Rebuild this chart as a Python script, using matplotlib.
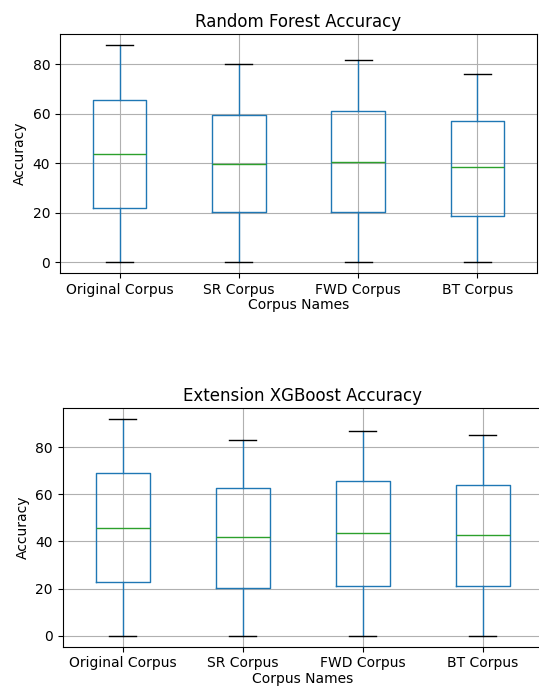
import matplotlib
matplotlib.use('Agg')
import matplotlib.pyplot as plt

# ── Data ────────────────────────────────────────────────────────────────────
corpora = ['Original Corpus', 'SR Corpus', 'FWD Corpus', 'BT Corpus']

# Random Forest accuracy
rf_min = [0.0, 0.0, 0.0, 0.0]
rf_q1 = [21.8, 20.2, 20.3, 18.7]
rf_med = [43.9, 39.8, 40.5, 38.3]
rf_q3 = [65.7, 59.6, 61.0, 57.0]
rf_max = [87.8, 80.0, 81.6, 76.0]

# Extension XGBoost accuracy
xgb_min = [0.0, 0.0, 0.0, 0.0]
xgb_q1 = [23.0, 20.2, 21.2, 21.2]
xgb_med = [45.9, 41.7, 43.4, 42.7]
xgb_q3 = [68.9, 62.8, 65.4, 64.0]
xgb_max = [91.8, 83.1, 86.7, 85.3]


def make_stats(lo, q1, med, q3, hi):
    return [dict(whislo=a, q1=b, med=c, q3=d, whishi=e, fliers=[])
            for a, b, c, d, e in zip(lo, q1, med, q3, hi)]


def draw(ax, stats, title):
    ax.bxp(stats, positions=[1, 2, 3, 4], widths=0.45,
           boxprops=dict(color='#1f77b4'),
           whiskerprops=dict(color='#1f77b4'),
           medianprops=dict(color='#2ca02c'),
           capprops=dict(color='black'),
           showfliers=False)
    ax.set_xticks([1, 2, 3, 4])
    ax.set_xticklabels(corpora)
    ax.set_xlim(0.5, 4.5)
    ax.grid(True)
    ax.set_title(title, fontsize=12, pad=5)
    ax.set_xlabel('Corpus Names', fontsize=10, labelpad=1)
    ax.set_ylabel('Accuracy', fontsize=10)
    ax.tick_params(labelsize=10)
    ax.set_yticks([0, 20, 40, 60, 80])


fig = plt.figure(figsize=(5.39, 6.91), dpi=100)
ax1 = fig.add_axes([0.1113, 0.6049, 0.885, 0.3459])
ax2 = fig.add_axes([0.1163, 0.0641, 0.8905, 0.345])

draw(ax1, make_stats(rf_min, rf_q1, rf_med, rf_q3, rf_max), 'Random Forest Accuracy')
draw(ax2, make_stats(xgb_min, xgb_q1, xgb_med, xgb_q3, xgb_max), 'Extension XGBoost Accuracy')
ax1.set_ylim(-4.4, 92.2)
ax2.set_ylim(-4.6, 96.4)

fig.savefig('out.png', dpi=100)
